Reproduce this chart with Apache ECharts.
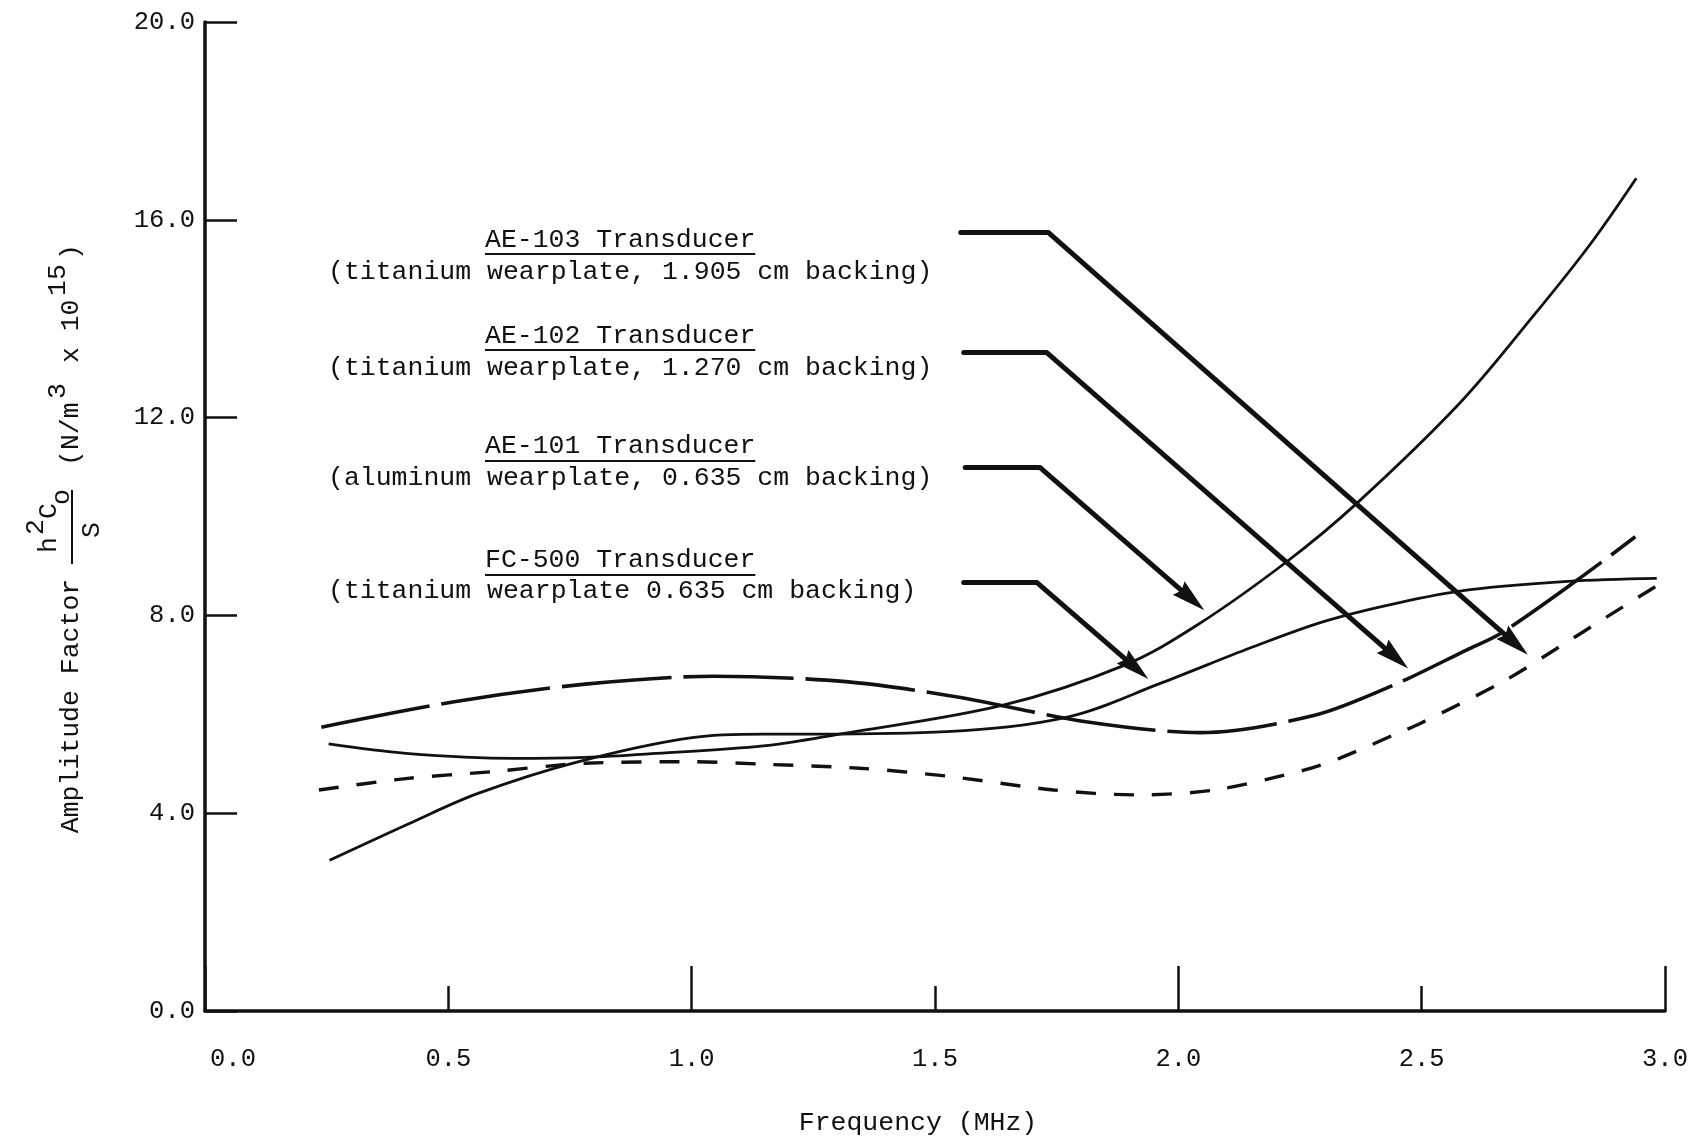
<!DOCTYPE html>
<html><head><meta charset="utf-8">
<script src="https://cdn.jsdelivr.net/npm/echarts@6/dist/echarts.min.js"></script>
<style>html,body{margin:0;padding:0;background:#fff}#c{width:1701px;height:1141px}</style>
</head><body><div id="c"></div>
<script>
// ---------- data ----------
const xTickLabels = ['0.0', '0.5', '1.0', '1.5', '2.0', '2.5', '3.0'];
const yTickLabels = ['0.0', '4.0', '8.0', '12.0', '16.0', '20.0'];

const seriesNames = ['AE-103 Transducer', 'AE-102 Transducer', 'AE-101 Transducer', 'FC-500 Transducer'];
const seriesDetails = [
  '(titanium wearplate, 1.905 cm backing)',
  '(titanium wearplate, 1.270 cm backing)',
  '(aluminum wearplate, 0.635 cm backing)',
  '(titanium wearplate 0.635 cm backing)'
];

// AE-103 : short dashes
const freqAE103 = [0.234, 0.413, 0.590, 0.781, 1.001, 1.148, 1.345, 1.524, 1.744, 1.912, 2.075, 2.258, 2.331, 2.449, 2.498, 2.667, 2.784, 2.887, 2.980];
const ampAE103  = [4.47, 4.70, 4.84, 5.01, 5.04, 4.99, 4.91, 4.75, 4.47, 4.37, 4.47, 4.87, 5.11, 5.61, 5.82, 6.66, 7.37, 8.01, 8.58];
// AE-102 : long dashes
const freqAE102 = [0.239, 0.509, 0.781, 1.045, 1.317, 1.546, 1.810, 2.045, 2.280, 2.449, 2.592, 2.663, 2.819, 2.939];
const ampAE102  = [5.74, 6.25, 6.61, 6.77, 6.66, 6.35, 5.85, 5.63, 5.98, 6.62, 7.30, 7.64, 8.71, 9.59];
// AE-101 : solid, steep rise
const freqAE101 = [0.254, 0.413, 0.634, 0.781, 0.927, 1.147, 1.304, 1.642, 1.891, 2.038, 2.222, 2.366, 2.579, 2.729, 2.846, 2.941];
const ampAE101  = [5.40, 5.21, 5.11, 5.13, 5.21, 5.36, 5.60, 6.19, 7.00, 7.80, 9.08, 10.26, 12.30, 14.05, 15.50, 16.84];
// FC-500 : solid, levelling off
const freqFC500 = [0.256, 0.413, 0.561, 0.766, 1.001, 1.148, 1.258, 1.524, 1.774, 1.964, 2.150, 2.300, 2.450, 2.600, 2.800, 2.983];
const ampFC500  = [3.05, 3.76, 4.40, 5.04, 5.53, 5.60, 5.60, 5.65, 5.95, 6.63, 7.35, 7.88, 8.25, 8.52, 8.69, 8.75];

// pointer arrows (data coordinates), order as seriesNames
const arrowLevel  = [15.75, 13.33, 10.99, 8.67];
const arrowStartX = [1.553, 1.559, 1.562, 1.559];
const arrowBendX  = [1.732, 1.728, 1.716, 1.709];
// centre of each arrowhead
const arrowHeadX  = [2.692, 2.446, 2.027, 1.912];
const arrowHeadY  = [7.43, 7.15, 8.33, 6.94];

// ---------- chart ----------
const FONT = '"Liberation Mono", "DejaVu Sans Mono", monospace';
const FS = 26.5;
const INK = '#111';
const pairs = (xs, ys) => xs.map((x, i) => [x, ys[i]]);

const labelBlocks = [];
const titleY = [240, 336, 445.5, 559.5];
const detailY = [272, 368, 478, 591];
const underY = [254, 350, 461, 575];
seriesNames.forEach((name, i) => {
  labelBlocks.push({type: 'text', x: 485, y: titleY[i], z: 10,
    style: {text: name, font: FS + 'px ' + FONT, fill: INK, textAlign: 'left', textVerticalAlign: 'middle', verticalAlign: 'middle'}});
  labelBlocks.push({type: 'line', z: 10, shape: {x1: 485, y1: underY[i], x2: 485 + name.length * 0.6 * FS, y2: underY[i]},
    style: {stroke: INK, lineWidth: 2}});
  labelBlocks.push({type: 'text', x: 328, y: detailY[i], z: 10,
    style: {text: seriesDetails[i], font: FS + 'px ' + FONT, fill: INK, textAlign: 'left', textVerticalAlign: 'middle', verticalAlign: 'middle'}});
});

function t(text, x, y, align) {
  return {type: 'text', x: x, y: y,
    style: {text: text, font: FS + 'px ' + FONT, fill: INK, textAlign: align || 'center', textVerticalAlign: 'middle', verticalAlign: 'middle'}};
}
const yTitle = {
  type: 'group', x: 71, y: 706, rotation: Math.PI / 2, z: 10,
  children: [
    t('Amplitude Factor', 0, 0),
    t('h', 161, -22), t('2', 179, -35), t('C', 195, -22), t('o', 209, -9),
    {type: 'line', shape: {x1: 142, y1: 1, x2: 216, y2: 1}, style: {stroke: INK, lineWidth: 2}},
    t('S', 176, 21),
    t('(N/m', 240, 0, 'left'), t('3', 315, -13), t(' x 10', 327, 0, 'left'), t('15', 426, -13), t(')', 446, 0, 'left')
  ]
};

const axisText = {fontFamily: FONT, fontSize: 25.5, color: INK};
const ARROW_HEAD = 'path://M0,0 L9,34 L0,30 L-9,34 Z';

const option = {
  animation: false,
  backgroundColor: '#fff',
  grid: {left: 205, right: 36, top: 22, bottom: 128, containLabel: false},
  xAxis: [
    {
      type: 'value', min: 0, max: 3, interval: 0.5,
      name: 'Frequency (MHz)', nameLocation: 'middle', nameGap: 98,
      nameTextStyle: {fontFamily: FONT, fontSize: FS, color: INK, padding: [0, 34, 0, 0]},
      axisLine: {show: true, onZero: false, lineStyle: {color: INK, width: 3.5}},
      axisTick: {show: true, inside: true, length: 25, lineStyle: {color: INK, width: 2.5}},
      splitLine: {show: false},
      axisLabel: Object.assign({}, axisText, {
        margin: 35,
        formatter: (v, i) => i === 0 ? '{first|' + xTickLabels[0] + '}' : xTickLabels[i],
        rich: {first: {padding: [0, 0, 0, 56], fontFamily: FONT, fontSize: 25.5, color: INK}}
      })
    },
    {
      type: 'value', min: 0, max: 3, interval: 1, position: 'bottom', offset: 0,
      axisLine: {show: false}, axisLabel: {show: false}, splitLine: {show: false},
      axisTick: {show: true, inside: true, length: 45, lineStyle: {color: INK, width: 2.5}}
    }
  ],
  yAxis: {
    type: 'value', min: 0, max: 20, interval: 4,
    axisLine: {show: true, onZero: false, lineStyle: {color: INK, width: 3.5}},
    axisTick: {show: true, inside: true, length: 32, lineStyle: {color: INK, width: 2.5}},
    splitLine: {show: false},
    axisLabel: Object.assign({}, axisText, {margin: 10, formatter: (v, i) => yTickLabels[i]})
  },
  graphic: labelBlocks.concat([yTitle]),
  series: [
    {name: seriesNames[0], type: 'line', data: pairs(freqAE103, ampAE103), smooth: 0.3, showSymbol: false, z: 2,
      lineStyle: {color: INK, width: 3.4, type: [20, 18]}},
    {name: seriesNames[1], type: 'line', data: pairs(freqAE102, ampAE102), smooth: 0.3, showSymbol: false, z: 2,
      lineStyle: {color: INK, width: 3.6, type: [110, 12]}},
    {name: seriesNames[2], type: 'line', data: pairs(freqAE101, ampAE101), smooth: 0.35, showSymbol: false, z: 2,
      lineStyle: {color: INK, width: 2.8, type: 'solid'}},
    {name: seriesNames[3], type: 'line', data: pairs(freqFC500, ampFC500), smooth: 0.35, showSymbol: false, z: 2,
      lineStyle: {color: INK, width: 2.8, type: 'solid'}},
    {type: 'lines', coordinateSystem: 'cartesian2d', z: 5, symbol: 'none',
      lineStyle: {color: INK, width: 5, opacity: 1, cap: 'round'},
      data: arrowLevel.map((lv, i) => ({coords: [[arrowStartX[i], lv], [arrowBendX[i], lv]]}))},
    {type: 'lines', coordinateSystem: 'cartesian2d', z: 5, symbol: ['none', ARROW_HEAD], symbolSize: [0, [18, 34]],
      lineStyle: {color: INK, width: 5, opacity: 1, cap: 'butt'},
      data: arrowLevel.map((lv, i) => ({coords: [[arrowBendX[i], lv], [arrowHeadX[i], arrowHeadY[i]]]}))}
  ]
};

const chart = echarts.init(document.getElementById('c'), null, {renderer: 'canvas'});
chart.setOption(option);
</script>
</body></html>
